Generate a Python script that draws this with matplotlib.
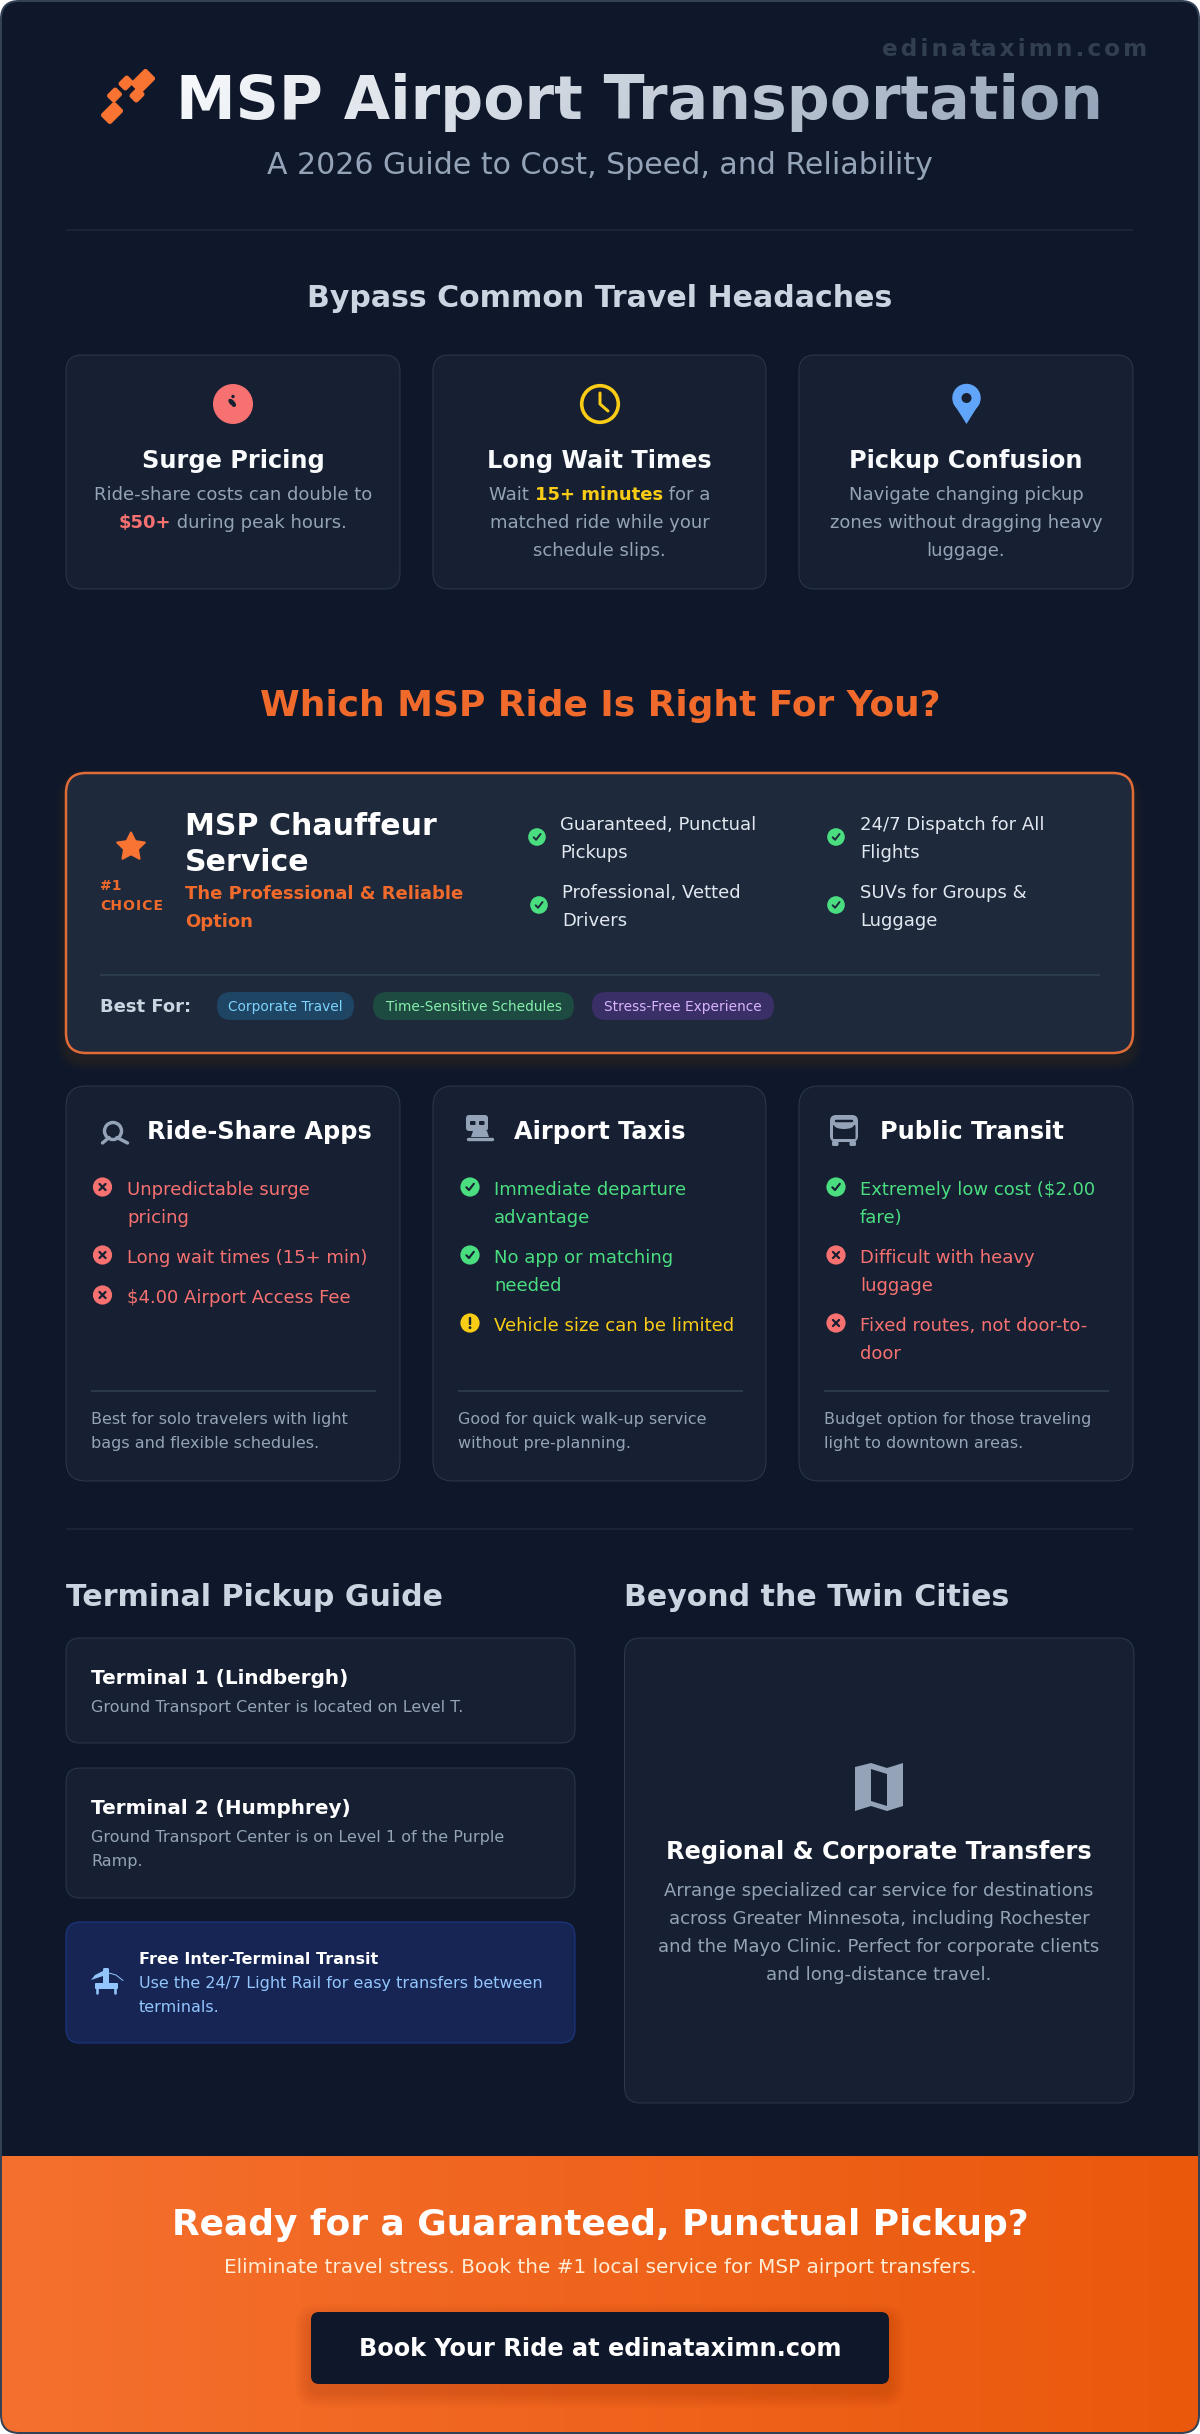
import numpy as np
import matplotlib
matplotlib.use('Agg')
import matplotlib.pyplot as plt
from matplotlib.patches import FancyBboxPatch, Circle, Polygon, PathPatch, Ellipse
from matplotlib.path import Path
from matplotlib.colors import to_rgb
from matplotlib.transforms import Affine2D

# texts
WATERMARK = 'edinataximn.com'
MAIN_TITLE = 'MSP Airport Transportation'
SUBTITLE = 'A 2026 Guide to Cost, Speed, and Reliability'
HEADACHE_HEAD = 'Bypass Common Travel Headaches'
HEADACHE_TITLES = ['Surge Pricing', 'Long Wait Times', 'Pickup Confusion']
HEADACHE_LINES = [
    [[('Ride-share costs can double to', 0)], [('$50+', 1), (' during peak hours.', 0)]],
    [[('Wait ', 0), ('15+ minutes', 2), (' for a', 0)], [('matched ride while your', 0)], [('schedule slips.', 0)]],
    [[('Navigate changing pickup', 0)], [('zones without dragging heavy', 0)], [('luggage.', 0)]],
]
WHICH_HEAD = 'Which MSP Ride Is Right For You?'
BADGE = ['#1', 'CHOICE']
FEATURE_NAME = ['MSP Chauffeur', 'Service']
FEATURE_TAG = ['The Professional & Reliable', 'Option']
FEATURE_POINTS = [
    ['Guaranteed, Punctual', 'Pickups'],
    ['Professional, Vetted', 'Drivers'],
    ['24/7 Dispatch for All', 'Flights'],
    ['SUVs for Groups &', 'Luggage'],
]
BEST_FOR = 'Best For:'
PILLS = ['Corporate Travel', 'Time-Sensitive Schedules', 'Stress-Free Experience']
OPTION_TITLES = ['Ride-Share Apps', 'Airport Taxis', 'Public Transit']
OPTION_ITEMS = [
    [('x', ['Unpredictable surge', 'pricing']), ('x', ['Long wait times (15+ min)']), ('x', ['$4.00 Airport Access Fee'])],
    [('ok', ['Immediate departure', 'advantage']), ('ok', ['No app or matching', 'needed']), ('warn', ['Vehicle size can be limited'])],
    [('ok', ['Extremely low cost ($2.00', 'fare)']), ('x', ['Difficult with heavy', 'luggage']), ('x', ['Fixed routes, not door-to-', 'door'])],
]
OPTION_NOTES = [
    ['Best for solo travelers with light', 'bags and flexible schedules.'],
    ['Good for quick walk-up service', 'without pre-planning.'],
    ['Budget option for those traveling', 'light to downtown areas.'],
]
TERMINAL_HEAD = 'Terminal Pickup Guide'
T1 = ['Terminal 1 (Lindbergh)', 'Ground Transport Center is located on Level T.']
T2 = ['Terminal 2 (Humphrey)', 'Ground Transport Center is on Level 1 of the Purple', 'Ramp.']
TRANSIT = ['Free Inter-Terminal Transit', 'Use the 24/7 Light Rail for easy transfers between', 'terminals.']
BEYOND_HEAD = 'Beyond the Twin Cities'
REGIONAL_TITLE = 'Regional & Corporate Transfers'
REGIONAL_LINES = ['Arrange specialized car service for destinations', 'across Greater Minnesota, including Rochester',
                  'and the Mayo Clinic. Perfect for corporate clients', 'and long-distance travel.']
CTA_TITLE = 'Ready for a Guaranteed, Punctual Pickup?'
CTA_SUB = 'Eliminate travel stress. Book the #1 local service for MSP airport transfers.'
CTA_BUTTON = 'Book Your Ride at edinataximn.com'

# colours
BG = '#0f172a'
CARD = '#162032'
CARD_EDGE = '#2d384b'
FEATURE = '#1e293b'
ORANGE = '#f06a2c'
GREY = '#94a3b8'
RED = '#f87171'
GREEN = '#4ade80'
YELLOW = '#facc15'
STATUS = {'x': RED, 'ok': GREEN, 'warn': YELLOW}

fig = plt.figure(figsize=(12, 24.34), dpi=100, facecolor='white')
ax = fig.add_axes([0, 0, 1, 1])
ax.set_xlim(0, 1200)
ax.set_ylim(2434, 0)
ax.axis('off')
renderer = fig.canvas.get_renderer()


def label(x, y, s, size, color, weight='normal', ha='left', **kw):
    # size in px, y is the baseline
    return ax.text(x, y, s, fontsize=size * 0.72, color=color, fontweight=weight, ha=ha, va='baseline',
                   family='DejaVu Sans', zorder=5, **kw)


def text_w(s, size, weight):
    t = label(0, 0, s + '|', size, 'k', weight)
    t2 = label(0, 0, '|', size, 'k', weight)
    w = t.get_window_extent(renderer).width - t2.get_window_extent(renderer).width
    t.remove()
    t2.remove()
    return w


def rr(x0, y0, x1, y1, r, fc, ec='none', lw=1.0, alpha=None, z=1):
    p = FancyBboxPatch((x0, y0), x1 - x0, y1 - y0, boxstyle=f'round,pad=0,rounding_size={r}',
                       fc=fc, ec=ec, lw=lw * 0.72, alpha=alpha, zorder=z)
    ax.add_patch(p)
    return p


def shadow(x0, y0, x1, y1, r, color, spread, alpha, dy=0, z=1):
    for i in range(8, 0, -1):
        e = spread * i / 8
        rr(x0 - e, y0 - e + dy, x1 + e, y1 + e + dy, r + e, color, alpha=alpha, z=z)


def hline(y, x0, x1, color, lw=1.0):
    ax.plot([x0, x1], [y, y], color=color, lw=lw * 0.72, solid_capstyle='butt', zorder=2)


def poly(pts, color, z=3):
    ax.add_patch(Polygon(pts, closed=True, fc=color, ec='none', zorder=z))


def stroke(xs, ys, color, lw, cap='round', z=4):
    ax.plot(xs, ys, color=color, lw=lw * 0.72, solid_capstyle=cap, solid_joinstyle='round', zorder=z)


def status_icon(kind, cx, cy, r, inner):
    ax.add_patch(Circle((cx, cy), r, fc=STATUS[kind], ec='none', zorder=3))
    s = r / 9.5
    if kind == 'ok':
        stroke([cx - 3.6 * s, cx - 1 * s, cx + 3.8 * s], [cy + 0.3 * s, cy + 3 * s, cy - 3.2 * s], inner, 2.1 * s)
    elif kind == 'x':
        stroke([cx - 3 * s, cx + 3 * s], [cy - 3 * s, cy + 3 * s], inner, 2.2 * s)
        stroke([cx - 3 * s, cx + 3 * s], [cy + 3 * s, cy - 3 * s], inner, 2.2 * s)
    else:
        stroke([cx, cx], [cy - 5 * s, cy + 1 * s], inner, 2.4 * s)
        ax.add_patch(Circle((cx, cy + 4.6 * s), 1.4 * s, fc=inner, ec='none', zorder=4))


def gradient_text(c0, c1):
    c0, c1 = np.array(to_rgb(c0)), np.array(to_rgb(c1))

    def f(img, dpi):
        h, w = img.shape[:2]
        yy, xx = np.mgrid[0:h, 0:w]
        t = (xx + yy) / (w + h)
        out = img.copy()
        out[..., :3] = c0 + (c1 - c0) * t[..., None]
        return out, 0, 0
    return f


def letter_spacing(px):
    def f(img, dpi):
        empty = img[..., 3].max(axis=0) < 0.03
        starts = empty & ~np.roll(empty, 1)
        return np.repeat(img, 1 + px * starts.astype(int), axis=1), 0, 0
    return f


# page
page = rr(1, 1, 1199, 2433, 18, BG, z=0)

# header
label(882, 56, WATERMARK, 23.2, '#323e52', 'bold').set_agg_filter(letter_spacing(3))
for cx, cy, w, h in [(112, 113, 20, 14), (114.5, 95, 13, 11), (126, 83, 13, 11), (143, 81, 22, 15), (137, 95, 13, 11)]:
    tr = Affine2D().translate(-w / 2, -h / 2).rotate_deg(-45).translate(cx, cy)
    p = FancyBboxPatch((0, 0), w, h, boxstyle='round,pad=0,rounding_size=2.5', fc='#f97332', ec='none', zorder=3,
                       transform=tr + ax.transData)
    ax.add_patch(p)
label(176, 119, MAIN_TITLE, 60, 'white', 'bold').set_agg_filter(gradient_text('#f8fafc', '#94a3b8'))
label(600, 174, SUBTITLE, 30, GREY, ha='center')
hline(230, 66, 1133, '#1e293b', 1.5)

# headaches
label(600, 307, HEADACHE_HEAD, 30, '#cbd5e1', 'bold', ha='center')
CARD_X = [(66, 400), (433, 766), (799, 1133)]
ACCENTS = [GREY, RED, YELLOW]
for (x0, x1), title, lines in zip(CARD_X, HEADACHE_TITLES, HEADACHE_LINES):
    rr(x0, 355, x1, 589, 16, CARD, CARD_EDGE, 1)
    cx = (x0 + x1) / 2
    label(cx, 468, title, 24, '#f8fafc', 'bold', ha='center')
    for k, runs in enumerate(lines):
        weights = ['bold' if c else 'normal' for _, c in runs]
        widths = [text_w(s, 18, wt) for (s, _), wt in zip(runs, weights)]
        x = cx - sum(widths) / 2
        for (s, c), wt, w in zip(runs, weights, widths):
            label(x, 500.5 + 28 * k, s, 18, ACCENTS[c], wt)
            x += w

# surge icon
ax.add_patch(Circle((233, 404), 20, fc=RED, ec='none', zorder=3))
ax.add_patch(Ellipse((232, 402.5), 9, 5, angle=45, fc=CARD, ec='none', zorder=4))
ax.add_patch(Circle((233, 396.5), 1.7, fc=CARD, ec='none', zorder=4))
ax.add_patch(Circle((234, 405), 2, fc=CARD, ec='none', zorder=4))
# clock icon
ax.add_patch(Circle((600, 404), 18.3, fc='none', ec=YELLOW, lw=3.6 * 0.72, zorder=3))
stroke([600, 600, 608], [393, 404, 411], YELLOW, 3)
# pin icon
ax.add_patch(Circle((966.5, 398), 14.2, fc='#60a5fa', ec='none', zorder=3))
poly([(953.3, 403), (979.7, 403), (966.5, 424)], '#60a5fa')
ax.add_patch(Circle((966.5, 398), 5, fc=CARD, ec='none', zorder=4))

# which ride
label(600, 716, WHICH_HEAD, 36, ORANGE, 'bold', ha='center')
shadow(66, 773, 1133, 1053, 20, '#f97316', 10, 0.012, dy=8)
rr(66, 773, 1133, 1053, 20, FEATURE, '#e06c38', 2.5)
star = Path.unit_regular_star(5, 0.5).transformed(Affine2D().scale(14.5, -14.5).translate(131, 847))
ax.add_patch(PathPatch(star, fc='#f97332', ec='#f97332', lw=1.5, joinstyle='round', zorder=3))
label(100, 890, BADGE[0], 14, ORANGE, 'bold')
label(100, 910, BADGE[1], 14, ORANGE, 'bold').set_agg_filter(letter_spacing(1))
label(185, 835, FEATURE_NAME[0], 30, 'white', 'bold')
label(185, 871, FEATURE_NAME[1], 30, 'white', 'bold')
label(185, 899, FEATURE_TAG[0], 18, ORANGE, 'bold')
label(185, 927, FEATURE_TAG[1], 18, ORANGE, 'bold')
POINT_POS = [(537, 837, 560, 829.5), (539, 905, 562, 898), (836, 837, 860, 829.5), (836, 905, 860, 898)]
for (ix, iy, tx, ty), lines in zip(POINT_POS, FEATURE_POINTS):
    status_icon('ok', ix, iy, 8.8, FEATURE)
    label(tx, ty, lines[0], 18, '#e2e8f0')
    label(tx, ty + 28.5, lines[1], 18, '#e2e8f0')
hline(975, 100, 1100, '#334155', 1.5)
label(100, 1012, BEST_FOR, 18, '#cbd5e1', 'bold')
PILL_X = [(217, 354), (373, 574), (592, 774)]
PILL_COL = [('#1e4564', '#7dd3fc'), ('#1d4a41', '#86efac'), ('#3a2f66', '#d8b4fe')]
for (x0, x1), s, (fc, tc) in zip(PILL_X, PILLS, PILL_COL):
    rr(x0, 992, x1, 1020, 14, fc)
    label((x0 + x1) / 2, 1011, s, 13.8, tc, ha='center')

# three options
TITLE_X = [147, 514, 880]
ICON_X = [102.5, 470, 836]
TEXT_X = [127, 494, 860]
NOTE_X = [91, 458, 824]
for i, (x0, x1) in enumerate(CARD_X):
    rr(x0, 1086, x1, 1481, 20, CARD, CARD_EDGE, 1)
    label(TITLE_X[i], 1139, OPTION_TITLES[i], 24, 'white', 'bold')
    base = 1195
    for kind, lines in OPTION_ITEMS[i]:
        status_icon(kind, ICON_X[i], base - 8, 9.6, CARD)
        for k, s in enumerate(lines):
            label(TEXT_X[i], base + 28 * k, s, 18, STATUS[kind])
        base += 28 * (len(lines) - 1) + 40
    hline(1391, NOTE_X[i], NOTE_X[i] + 285, '#334155', 1.5)
    label(NOTE_X[i], 1424, OPTION_NOTES[i][0], 16, GREY)
    label(NOTE_X[i], 1448, OPTION_NOTES[i][1], 16, GREY)

# ride share icon
ax.add_patch(Circle((113, 1131), 8.5, fc='none', ec=GREY, lw=3.4 * 0.72, zorder=3))
stroke([102.5, 109], [1143, 1137.5], GREY, 3.4)
stroke([117, 127.5], [1137.5, 1143], GREY, 3.4)
# taxi icon
rr(466, 1115, 488, 1131, 3, GREY, z=3)
rr(470, 1121, 475.5, 1125, 1, CARD, z=4)
rr(479, 1121, 484.5, 1125, 1, CARD, z=4)
poly([(473, 1131), (487, 1131), (489, 1137), (471, 1137)], GREY)
stroke([468, 492], [1138.5, 1138.5], GREY, 3.4)
# bus icon
rr(830, 1115, 858, 1142, 6, GREY, z=3)
rr(833, 1125, 855.5, 1139, 1, CARD, z=4)
ax.add_patch(Ellipse((844, 1125), 20, 8, fc=GREY, ec='none', zorder=5))
stroke([836, 852], [1120.5, 1120.5], CARD, 2.5, z=5)
rr(832, 1141, 838.5, 1146, 1.5, GREY, z=3)
rr(849.5, 1141, 856, 1146, 1.5, GREY, z=3)

hline(1529, 66, 1133, '#1e293b', 1.5)

# terminals
label(66, 1606, TERMINAL_HEAD, 30, '#cbd5e1', 'bold')
rr(66, 1638, 575, 1743, 14, CARD, CARD_EDGE, 1)
label(91, 1684, T1[0], 20, 'white', 'bold')
label(91, 1712, T1[1], 16, GREY)
rr(66, 1768, 575, 1898, 14, CARD, CARD_EDGE, 1)
label(91, 1814, T2[0], 20, 'white', 'bold')
label(91, 1842, T2[1], 16, GREY)
label(91, 1866, T2[2], 16, GREY)
rr(66, 1922, 575, 2043, 14, '#162554', '#1e3a8a', 1)
label(139, 1964, TRANSIT[0], 16, 'white', 'bold')
label(139, 1988, TRANSIT[1], 16, '#93c5fd')
label(139, 2012, TRANSIT[2], 16, '#93c5fd')
# transit icon
LIGHT = '#93c5fd'
rr(103, 1968, 109, 1984, 1.5, LIGHT, z=3)
rr(95, 1983, 118, 1989, 1, LIGHT, z=3)
stroke([97, 97], [1988, 1993], LIGHT, 2.6)
stroke([115, 115], [1988, 1993], LIGHT, 2.6)
poly([(91, 1980), (95, 1975), (103, 1971), (103, 1976), (97, 1978)], LIGHT)
stroke([109, 116, 123], [1973, 1975, 1980.5], LIGHT, 1)

# beyond
label(624, 1606, BEYOND_HEAD, 30, '#cbd5e1', 'bold')
rr(624.5, 1638, 1134, 2103, 16, CARD, CARD_EDGE, 1)
poly([(855, 1767), (871, 1763), (887, 1768), (903, 1763), (903, 1806), (887, 1811), (871, 1806), (855, 1811)], GREY)
poly([(871, 1769), (887, 1774), (887, 1806), (871, 1801)], CARD, z=4)
label(879, 1859, REGIONAL_TITLE, 24, 'white', 'bold', ha='center')
for k, s in enumerate(REGIONAL_LINES):
    label(879, 1896 + 28 * k, s, 18, GREY, ha='center')

# call to action
w = 1198
band = np.linspace(to_rgb('#f5702e'), to_rgb('#ea580c'), w)[None, :, :]
im = ax.imshow(band, extent=(1, 1199, 2434, 2156), aspect='auto', zorder=1, interpolation='bilinear')
im.set_clip_path(page)
ax.set_xlim(0, 1200)
ax.set_ylim(2434, 0)
rr(1, 1, 1199, 2433, 18, 'none', '#334155', 2, z=2)
label(600, 2235, CTA_TITLE, 36, 'white', 'bold', ha='center')
label(600, 2273, CTA_SUB, 20, '#ffedd5', ha='center')
shadow(311, 2312, 889, 2384, 8, 'black', 16, 0.012, dy=8, z=2)
rr(311, 2312, 889, 2384, 8, BG, z=3)
label(600, 2356, CTA_BUTTON, 24, 'white', 'bold', ha='center')

fig.savefig('out.png', dpi=100, facecolor=fig.get_facecolor())
